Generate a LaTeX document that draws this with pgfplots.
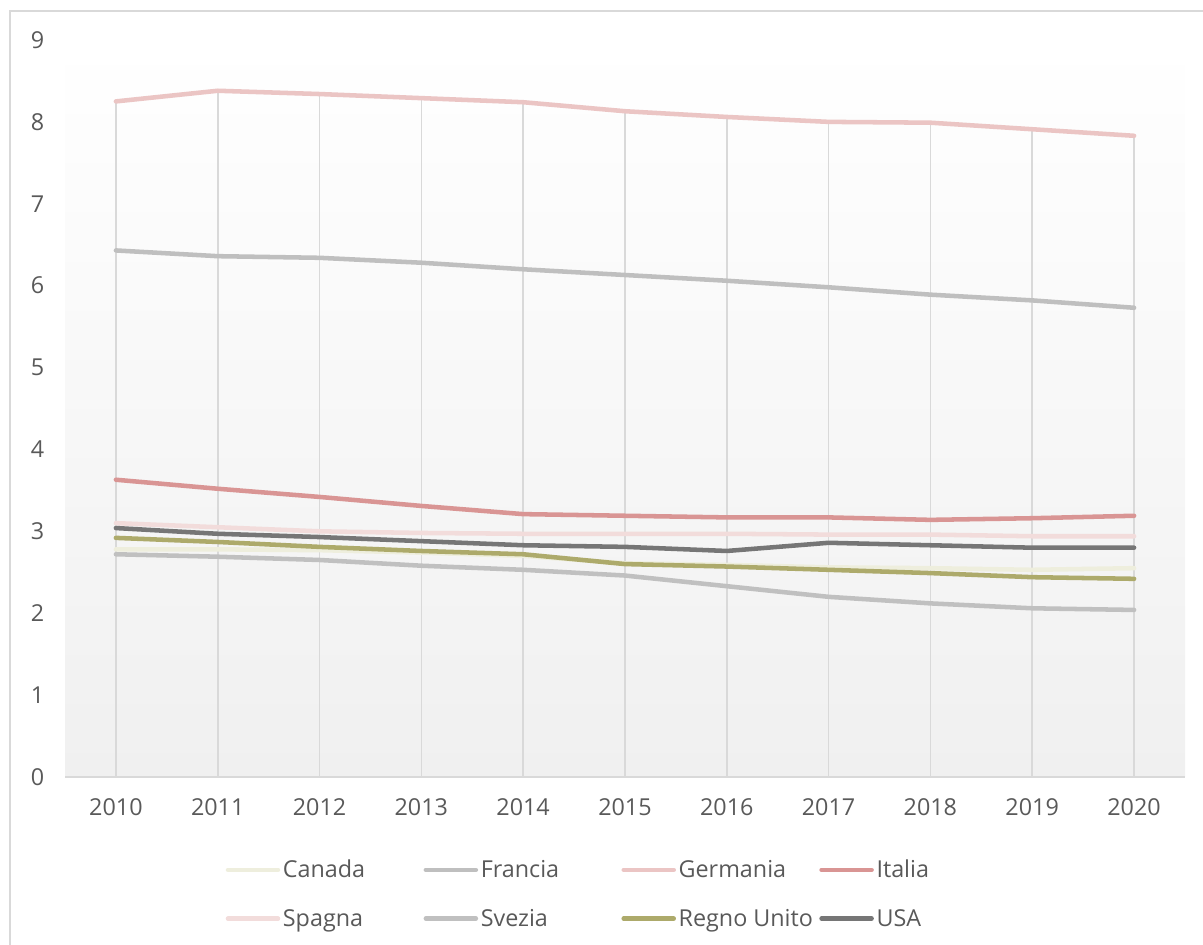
\documentclass[border=0pt]{standalone}
\usepackage{pgfplots}
\pgfplotsset{compat=1.18}
\usepackage{fontspec}
\setmainfont{Open Sans}

\definecolor{txt}{HTML}{595959}
\definecolor{gridc}{HTML}{D9D9D9}
\definecolor{bgbot}{HTML}{F0F0F0}
\definecolor{cCanada}{HTML}{EEEEDD}
\definecolor{cFrancia}{HTML}{BFBFBF}
\definecolor{cGermania}{HTML}{EBC5C4}
\definecolor{cItalia}{HTML}{D99594}
\definecolor{cSpagna}{HTML}{F2DCDB}
\definecolor{cSvezia}{HTML}{C0C0C0}
\definecolor{cRegno}{HTML}{ADAA6B}
\definecolor{cUSA}{HTML}{767676}

% fixed legend column width
\newcommand{\legtext}[1]{\makebox[103.5pt][l]{#1}}

\begin{document}
\begin{tikzpicture}
\path[use as bounding box] (0,0) rectangle (902.25pt,708.75pt);
\draw[gridc, line width=1.2pt] (7.5pt,0) -- (7.5pt,700.5pt) -- (902.25pt,700.5pt);
\begin{axis}[
    at={(48.75pt,126pt)}, anchor=south west,
    scale only axis,
    width=840pt, height=552.75pt,
    xmin=2009.5, xmax=2020.5,
    ymin=0, ymax=9,
    xtick={2010,...,2020},
    ytick={0,...,9},
    xticklabel style={/pgf/number format/1000 sep={}, yshift=-13pt},
    yticklabel style={xshift=-12pt},
    /pgf/number format/assume math mode=true,
    major tick length=0pt,
    axis x line*=bottom, axis y line*=left,
    x axis line style={draw=gridc, line width=1.2pt, -},
    y axis line style={draw=none},
    tick label style={font=\fontsize{17.5}{21}\selectfont, text=txt},
    axis background/.style={top color=white, bottom color=bgbot},
    every axis plot/.append style={line width=3.4pt, line join=round, line cap=round},
    legend columns=4,
    legend style={at={(0.1397,-0.105)}, anchor=north west, draw=none, fill=none,
        font=\fontsize{17.5}{21}\selectfont, text=txt,
        /tikz/every odd column/.append style={column sep=0pt},
        row sep=18pt, cells={anchor=west}},
    legend image code/.code={\draw[#1, line cap=round] (1.5pt,0pt) -- (39pt,0pt);},
]
% drop lines from the highest series
\addplot[ycomb, gridc, line width=1.2pt, line cap=butt, forget plot] coordinates {
(2010,8.25) (2011,8.38) (2012,8.34) (2013,8.29) (2014,8.24) (2015,8.13)
(2016,8.06) (2017,8.00) (2018,7.99) (2019,7.91) (2020,7.83)};
\addplot[cCanada] coordinates {
(2010,2.78) (2011,2.78) (2012,2.77) (2013,2.74) (2014,2.70) (2015,2.61)
(2016,2.59) (2017,2.56) (2018,2.55) (2019,2.53) (2020,2.55)};
\addlegendentry{\legtext{Canada}}
\addplot[cFrancia] coordinates {
(2010,6.43) (2011,6.36) (2012,6.34) (2013,6.28) (2014,6.20) (2015,6.13)
(2016,6.06) (2017,5.98) (2018,5.89) (2019,5.82) (2020,5.73)};
\addlegendentry{\legtext{Francia}}
\addplot[cGermania] coordinates {
(2010,8.25) (2011,8.38) (2012,8.34) (2013,8.29) (2014,8.24) (2015,8.13)
(2016,8.06) (2017,8.00) (2018,7.99) (2019,7.91) (2020,7.83)};
\addlegendentry{\legtext{Germania}}
\addplot[cItalia] coordinates {
(2010,3.63) (2011,3.52) (2012,3.42) (2013,3.31) (2014,3.21) (2015,3.19)
(2016,3.17) (2017,3.17) (2018,3.14) (2019,3.16) (2020,3.19)};
\addlegendentry{Italia}
\addplot[cSpagna] coordinates {
(2010,3.10) (2011,3.05) (2012,3.00) (2013,2.98) (2014,2.97) (2015,2.97)
(2016,2.97) (2017,2.96) (2018,2.96) (2019,2.94) (2020,2.94)};
\addlegendentry{\legtext{Spagna}}
\addplot[cSvezia] coordinates {
(2010,2.72) (2011,2.69) (2012,2.65) (2013,2.58) (2014,2.53) (2015,2.46)
(2016,2.33) (2017,2.20) (2018,2.12) (2019,2.06) (2020,2.04)};
\addlegendentry{\legtext{Svezia}}
\addplot[cRegno] coordinates {
(2010,2.92) (2011,2.87) (2012,2.81) (2013,2.76) (2014,2.72) (2015,2.60)
(2016,2.57) (2017,2.53) (2018,2.49) (2019,2.44) (2020,2.42)};
\addlegendentry{\legtext{Regno Unito}}
\addplot[cUSA] coordinates {
(2010,3.04) (2011,2.97) (2012,2.93) (2013,2.88) (2014,2.83) (2015,2.81)
(2016,2.76) (2017,2.86) (2018,2.83) (2019,2.80) (2020,2.80)};
\addlegendentry{USA}
\end{axis}
\end{tikzpicture}
\end{document}
